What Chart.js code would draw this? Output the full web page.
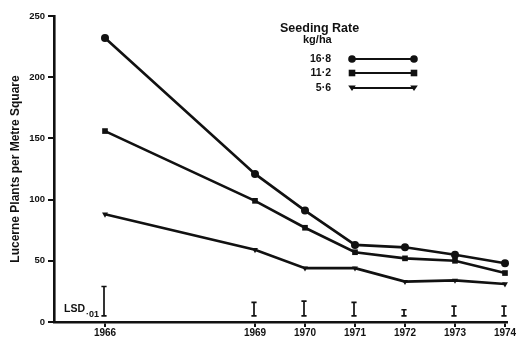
<!DOCTYPE html>
<html>
<head>
<meta charset="utf-8">
<script src="https://cdn.jsdelivr.net/npm/chart.js@4/dist/chart.umd.min.js"></script>
<style>
html,body{margin:0;padding:0;background:#fff;}
#wrap{width:517px;height:340px;position:relative;}
</style>
</head>
<body>
<div id="wrap"><canvas id="c" width="517" height="340"></canvas></div>
<script>
// ---- data ----
const years = [1966, 1969, 1970, 1971, 1972, 1973, 1974];
const rate168 = [232, 121, 91, 63, 61, 55, 48];
const rate112 = [156, 99, 77, 57, 52, 50, 40];
const rate56 = [88, 59, 44, 44, 33, 34, 31];
const lsdLow = [5, 5, 5, 5, 5, 5, 5];
const lsdHigh = [29, 16, 17, 16, 10, 13, 13];
const yTicks = [0, 50, 100, 150, 200, 250];
const seriesLabels = ['16·8', '11·2', '5·6'];
const legendTitle = 'Seeding Rate';
const legendUnit = 'kg/ha';
const yTitle = 'Lucerne Plants per Metre Square';
const lsdText = 'LSD';
const lsdSub = '·01';

const FONT = '"Liberation Sans", Arial, sans-serif';
const INK = '#111';

function pts(vals){ return years.map((y,i)=>({x:y, y:vals[i]})); }

function drawMarker(ctx, style, x, y){
  ctx.save();
  ctx.fillStyle = INK;
  ctx.beginPath();
  if (style === 'circle') { ctx.arc(x, y, 3.8, 0, Math.PI*2); }
  else if (style === 'rect') { ctx.rect(x-3.3, y-3.3, 6.6, 6.6); }
  else { ctx.moveTo(x-3.8, y-2.4); ctx.lineTo(x+3.8, y-2.4); ctx.lineTo(x, y+3); ctx.closePath(); }
  ctx.fill();
  ctx.restore();
}

const extras = {
  id: 'extras',
  afterDatasetsDraw(chart){
    const ctx = chart.ctx;
    const xs = chart.scales.x, ys = chart.scales.y;
    // LSD I-bars
    ctx.save();
    ctx.strokeStyle = INK;
    ctx.lineWidth = 1.7;
    years.forEach((yr,i)=>{
      const x = xs.getPixelForValue(yr) - 1;
      const t = ys.getPixelForValue(lsdHigh[i]);
      const b = ys.getPixelForValue(lsdLow[i]);
      ctx.beginPath();
      ctx.moveTo(x, t); ctx.lineTo(x, b);
      ctx.moveTo(x-2.6, t); ctx.lineTo(x+2.6, t);
      ctx.moveTo(x-2.6, b); ctx.lineTo(x+2.6, b);
      ctx.stroke();
    });
    // LSD label
    ctx.fillStyle = INK;
    ctx.textBaseline = 'alphabetic';
    ctx.font = 'bold 10.5px ' + FONT;
    ctx.textAlign = 'left';
    ctx.fillText(lsdText, 64, 312);
    ctx.font = 'bold 9px ' + FONT;
    ctx.fillText(lsdSub, 86, 317);
    ctx.restore();

    // Legend
    ctx.save();
    ctx.fillStyle = INK;
    ctx.font = 'bold 12.5px ' + FONT;
    ctx.textAlign = 'left';
    ctx.textBaseline = 'middle';
    ctx.fillText(legendTitle, 280, 29);
    ctx.font = 'bold 11px ' + FONT;
    ctx.fillText(legendUnit, 303, 40);
    const styles = ['circle','rect','triangle'];
    const ly = [59, 73, 88];
    seriesLabels.forEach((lab,i)=>{
      ctx.font = 'bold 10.5px ' + FONT;
      ctx.textAlign = 'right';
      ctx.fillStyle = INK;
      ctx.fillText(lab, 331, ly[i]);
      ctx.strokeStyle = INK;
      ctx.lineWidth = 2.2;
      ctx.beginPath();
      ctx.moveTo(352, ly[i]); ctx.lineTo(414, ly[i]);
      ctx.stroke();
      drawMarker(ctx, styles[i], 352, ly[i]);
      drawMarker(ctx, styles[i], 414, ly[i]);
    });
    ctx.restore();

    // Y title
    ctx.save();
    ctx.fillStyle = INK;
    ctx.font = 'bold 12px ' + FONT;
    ctx.textAlign = 'center';
    ctx.textBaseline = 'middle';
    ctx.translate(16, 169);
    ctx.rotate(-Math.PI/2);
    ctx.fillText(yTitle, 0, 0);
    ctx.restore();
  }
};

const lineDs = (label, vals, style, rot) => ({
  label, data: pts(vals),
  borderColor: INK, backgroundColor: INK,
  borderWidth: 2.6, pointStyle: style, pointRotation: rot || 0,
  pointRadius: style === 'triangle' ? 3.4 : 4,
  pointBackgroundColor: INK, pointBorderColor: INK, pointBorderWidth: 0,
  tension: 0, clip: false
});

new Chart(document.getElementById('c'), {
  type: 'line',
  data: {
    datasets: [
      lineDs(seriesLabels[0], rate168, 'circle'),
      lineDs(seriesLabels[1], rate112, 'rect'),
      lineDs(seriesLabels[2], rate56, 'triangle', 180)
    ]
  },
  options: {
    responsive: false,
    animation: false,
    layout: { padding: { top: 16, right: 10, left: 0, bottom: 0 } },
    plugins: { legend: { display: false }, tooltip: { enabled: false } },
    scales: {
      x: {
        type: 'linear', min: 1964.98, max: 1974.04,
        afterBuildTicks: s => { s.ticks = years.map(v => ({ value: v })); },
        afterFit: s => { s.height = 18; },
        grid: { drawOnChartArea: false, drawTicks: true, tickLength: 5, color: INK, lineWidth: 2 },
        border: { color: INK, width: 2.6 },
        ticks: { color: INK, font: { family: FONT, size: 10, weight: 'bold' }, padding: 0, maxRotation: 0, autoSkip: false,
                 callback: v => String(v) }
      },
      y: {
        min: 0, max: 250,
        afterBuildTicks: s => { s.ticks = yTicks.map(v => ({ value: v })); },
        afterFit: s => { s.width = 54; },
        grid: { drawOnChartArea: false, drawTicks: true, tickLength: 6, color: INK, lineWidth: 2 },
        border: { color: INK, width: 2.6 },
        ticks: { color: INK, font: { family: FONT, size: 9.5, weight: 'bold' }, padding: 3,
                 callback: v => String(v) }
      }
    }
  },
  plugins: [extras]
});
</script>
</body>
</html>
